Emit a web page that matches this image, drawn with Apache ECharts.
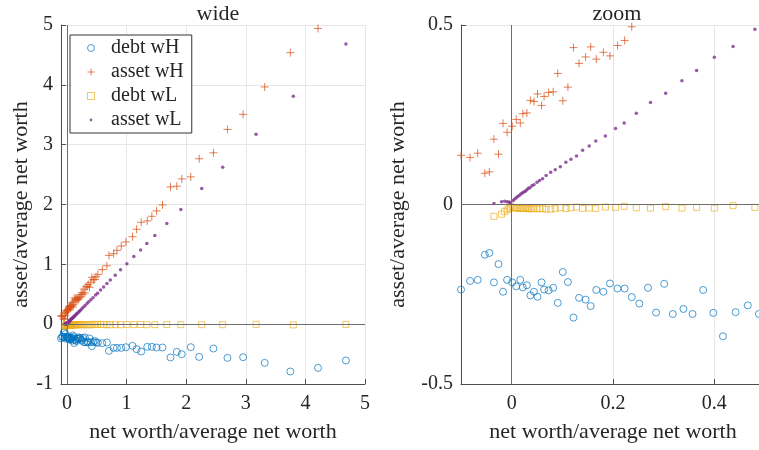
<!DOCTYPE html>
<html>
<head>
<meta charset="utf-8">
<script src="https://cdn.jsdelivr.net/npm/echarts@6/dist/echarts.min.js"></script>
<style>
  html, body { margin: 0; padding: 0; background: #fff; }
  #chart { width: 759px; height: 450px; }
</style>
</head>
<body>
<div id="chart"></div>
<script>
// high-w group: net worth, debt, asset (all / average net worth)
const wHnet = [-0.100, -0.082, -0.067, -0.053, -0.044, -0.035, -0.026, -0.017, -0.009, 0.001,
  0.009, 0.017, 0.022, 0.030, 0.037, 0.044, 0.051, 0.059, 0.064, 0.073,
  0.082, 0.091, 0.101, 0.111, 0.122, 0.133, 0.146, 0.156, 0.167, 0.181,
  0.194, 0.209, 0.223, 0.237, 0.252, 0.269, 0.285, 0.301, 0.318, 0.339,
  0.357, 0.378, 0.398, 0.417, 0.442, 0.466, 0.488, 0.519, 0.593, 0.670,
  0.704, 0.782, 0.838, 0.911, 0.989, 1.100, 1.168, 1.246, 1.347, 1.424,
  1.503, 1.603, 1.737, 1.843, 1.926, 2.077, 2.218, 2.457, 2.692, 2.955,
  3.317, 3.747, 4.211, 4.680]
const wHdebt = [-0.237, -0.213, -0.210, -0.140, -0.135, -0.217, -0.166, -0.243, -0.210, -0.217,
  -0.228, -0.210, -0.231, -0.225, -0.253, -0.243, -0.257, -0.217, -0.237, -0.239,
  -0.232, -0.274, -0.188, -0.216, -0.315, -0.260, -0.265, -0.283, -0.238, -0.243,
  -0.220, -0.234, -0.234, -0.258, -0.276, -0.232, -0.301, -0.221, -0.305, -0.291,
  -0.305, -0.238, -0.302, -0.367, -0.300, -0.281, -0.305, -0.312, -0.318, -0.306,
  -0.446, -0.396, -0.396, -0.396, -0.385, -0.362, -0.418, -0.457, -0.379, -0.379,
  -0.390, -0.390, -0.557, -0.463, -0.502, -0.385, -0.547, -0.407, -0.563, -0.552,
  -0.647, -0.791, -0.731, -0.607]
const wHasset = [0.137, 0.131, 0.143, 0.087, 0.091, 0.182, 0.140, 0.226, 0.201, 0.218,
  0.237, 0.227, 0.253, 0.255, 0.290, 0.287, 0.308, 0.276, 0.301, 0.312,
  0.314, 0.365, 0.289, 0.327, 0.437, 0.393, 0.411, 0.439, 0.405, 0.424,
  0.414, 0.443, 0.457, 0.495, 0.528, 0.501, 0.586, 0.522, 0.623, 0.630,
  0.662, 0.616, 0.700, 0.784, 0.742, 0.747, 0.793, 0.831, 0.911, 0.976,
  1.150, 1.178, 1.234, 1.307, 1.374, 1.462, 1.586, 1.703, 1.726, 1.803,
  1.893, 1.993, 2.294, 2.306, 2.428, 2.462, 2.765, 2.864, 3.255, 3.507,
  3.964, 4.538, 4.942, 5.287]

// low-w group
const wLnet = [-0.035, -0.020, -0.014, -0.009, -0.005, -0.002, 0.003, 0.006, 0.009, 0.012,
  0.015, 0.018, 0.021, 0.024, 0.027, 0.030, 0.033, 0.036, 0.040, 0.044,
  0.050, 0.055, 0.061, 0.068, 0.077, 0.086, 0.096, 0.107, 0.117, 0.128,
  0.140, 0.153, 0.166, 0.185, 0.205, 0.222, 0.246, 0.274, 0.304, 0.336,
  0.365, 0.400, 0.437, 0.480, 0.514, 0.564, 0.615, 0.670, 0.727, 0.810,
  0.899, 1.005, 1.122, 1.235, 1.340, 1.474, 1.675, 1.910, 2.261, 2.613,
  3.172, 3.797, 4.680]
const wLdebt = [-0.033, -0.027, -0.020, -0.015, -0.011, -0.006, -0.008, -0.009, -0.010, -0.010,
  -0.010, -0.011, -0.011, -0.011, -0.010, -0.011, -0.012, -0.011, -0.012, -0.011,
  -0.012, -0.012, -0.011, -0.013, -0.013, -0.011, -0.009, -0.011, -0.009, -0.007,
  -0.011, -0.010, -0.011, -0.007, -0.008, -0.005, -0.009, -0.010, -0.006, -0.010,
  -0.008, -0.010, -0.003, -0.008, -0.004, -0.006, -0.006, -0.008, -0.010, -0.008,
  -0.010, -0.006, -0.008, -0.006, -0.009, -0.008, -0.007, -0.008, -0.008, -0.009,
  -0.004, -0.012, -0.004]
const wLasset = [0.003, 0.008, 0.009, 0.008, 0.007, 0.005, 0.011, 0.015, 0.019, 0.022,
  0.025, 0.029, 0.032, 0.035, 0.037, 0.041, 0.045, 0.047, 0.052, 0.055,
  0.062, 0.067, 0.072, 0.081, 0.090, 0.097, 0.105, 0.118, 0.126, 0.135,
  0.151, 0.163, 0.177, 0.191, 0.212, 0.227, 0.254, 0.284, 0.310, 0.345,
  0.373, 0.410, 0.440, 0.488, 0.518, 0.570, 0.621, 0.678, 0.737, 0.818,
  0.909, 1.011, 1.130, 1.241, 1.349, 1.482, 1.682, 1.918, 2.269, 2.622,
  3.176, 3.809, 4.684]

const titles = ['wide', 'zoom']
const seriesNames = ['debt wH', 'asset wH', 'debt wL', 'asset wL']
const wideXTicks = [0, 1, 2, 3, 4, 5]
const zoomXTicks = [0, 0.2, 0.4]

const font = 'Liberation Serif'
const ink = '#262626'
const colors = ['#0072BD', '#D95319', '#EDB120', '#7E2F8E']
const plusPath = 'path://M0,4H8M4,0V8'
const squarePath = 'path://M0,0H8V8H0Z'
// small dot inside an 8x8 box, so the legend keeps it tiny
const dotPath = 'path://M0,0M8,8M2.4,4A1.6,1.6,0,1,1,5.6,4A1.6,1.6,0,1,1,2.4,4Z'

const pairs = (xs, ys) => xs.map((x, i) => [x, ys[i]])
const sets = [pairs(wHnet, wHdebt), pairs(wHnet, wHasset), pairs(wLnet, wLdebt), pairs(wLnet, wLasset)]

const markerStyle = [
    { symbol: 'circle', symbolSize: 7, itemStyle: { color: 'rgba(0,0,0,0)', borderColor: colors[0], borderWidth: 1, opacity: 0.7 } },
    { symbol: plusPath, symbolSize: 8, itemStyle: { color: colors[1], borderColor: colors[1], borderWidth: 1, opacity: 0.75 } },
    { symbol: 'rect', symbolSize: 6, itemStyle: { color: 'rgba(0,0,0,0)', borderColor: colors[2], borderWidth: 1, opacity: 0.7 } },
    { symbol: 'circle', symbolSize: 3.5, itemStyle: { color: colors[3] } }
]
const legendIcons = ['circle', plusPath, squarePath, dotPath]

function xAxisOf (idx, min, max, ticks) {
    return {
        type: 'value', gridIndex: idx, min: min, max: max,
        name: 'net worth/average net worth', nameLocation: 'middle', nameGap: 37,
        nameTextStyle: { fontFamily: font, fontSize: 22, color: ink },
        axisLine: { onZero: false, lineStyle: { color: '#4d4d4d' } },
        axisTick: { inside: true, length: 5, customValues: ticks, lineStyle: { color: '#4d4d4d' } },
        axisLabel: { customValues: ticks, fontFamily: font, fontSize: 20, color: ink, margin: 10 },
        splitLine: { show: true, lineStyle: { color: '#e6e6e6' } }
    }
}

function yAxisOf (idx, min, max, interval, gap) {
    return {
        type: 'value', gridIndex: idx, min: min, max: max, interval: interval,
        name: 'asset/average net worth', nameLocation: 'middle', nameGap: gap,
        nameTextStyle: { fontFamily: font, fontSize: 22, color: ink },
        axisLine: { show: true, onZero: false, lineStyle: { color: '#4d4d4d' } },
        axisTick: { show: true, inside: true, length: 5, lineStyle: { color: '#4d4d4d' } },
        axisLabel: { fontFamily: font, fontSize: 20, color: ink, margin: 8 },
        splitLine: { show: true, lineStyle: { color: '#e6e6e6' } }
    }
}

const series = []
for (let g = 0; g < 2; g++) {
    series.push({
        type: 'scatter', xAxisIndex: g, yAxisIndex: g, data: [], silent: true,
        markLine: {
            silent: true, symbol: ['none', 'none'], animation: false,
            label: { show: false },
            lineStyle: { color: '#6e6e6e', type: 'solid', width: 1 },
            data: [{ xAxis: 0 }, { yAxis: 0 }]
        }
    })
    for (let s = 0; s < 4; s++) {
        series.push(Object.assign({
            name: seriesNames[s], type: 'scatter', xAxisIndex: g, yAxisIndex: g,
            data: sets[s], clip: true, animation: false
        }, markerStyle[s]))
    }
}

const chart = echarts.init(document.getElementById('chart'))
chart.setOption({
    animation: false,
    backgroundColor: '#fff',
    title: [
        { text: titles[0], left: 213, top: -2, textAlign: 'center', textStyle: { fontFamily: font, fontSize: 22, fontWeight: 'normal', color: ink } },
        { text: titles[1], left: 612, top: -2, textAlign: 'center', textStyle: { fontFamily: font, fontSize: 22, fontWeight: 'normal', color: ink } }
    ],
    legend: {
        left: 70, top: 35, orient: 'vertical',
        backgroundColor: '#fff', borderColor: '#333', borderWidth: 1, borderRadius: 0,
        padding: [1, 8, 1, 17], itemGap: 0, itemWidth: 30, itemHeight: 7,
        textStyle: { fontFamily: font, fontSize: 20, color: ink, lineHeight: 24 },
        data: seriesNames.map((n, i) => ({ name: n, icon: legendIcons[i], itemStyle: markerStyle[i].itemStyle }))
    },
    grid: [
        { left: 61, top: 25, width: 304, height: 359, containLabel: false, outerBoundsMode: 'none' },
        { left: 461, top: 25, width: 304, height: 359, containLabel: false, outerBoundsMode: 'none' }
    ],
    xAxis: [xAxisOf(0, -0.1, 5, wideXTicks), xAxisOf(1, -0.1, 0.5, zoomXTicks)],
    yAxis: [yAxisOf(0, -1, 5, 1, 29), yAxisOf(1, -0.5, 0.5, 0.5, 52)],
    series: series
})
</script>
</body>
</html>
